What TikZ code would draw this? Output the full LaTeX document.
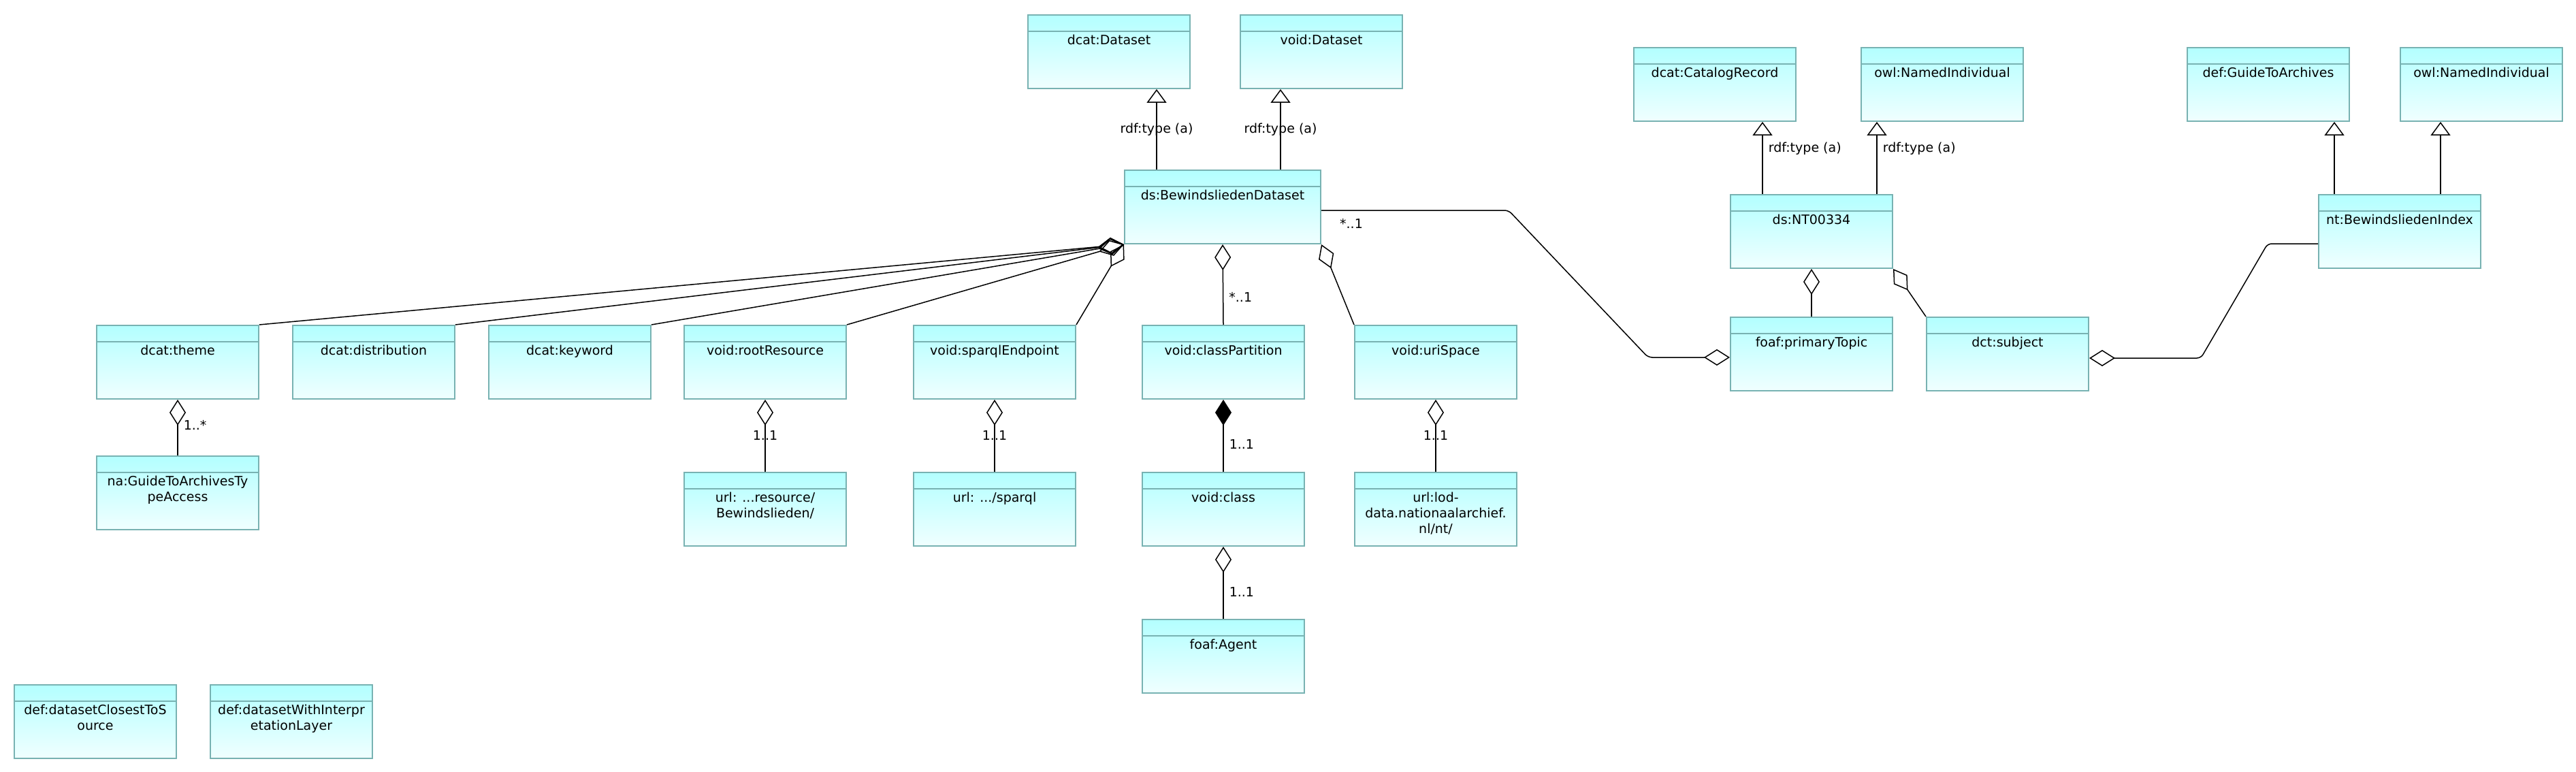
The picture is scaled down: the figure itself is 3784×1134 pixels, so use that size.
\documentclass[tikz,border=0pt]{standalone}
\usepackage{fontspec}
\setmainfont{DejaVu Sans}
\usetikzlibrary{arrows.meta}
\definecolor{clsline}{HTML}{78B2B2}
\definecolor{clstop}{HTML}{B3FFFF}
\definecolor{clsbot}{HTML}{F0FFFF}
\newcommand{\klasse}[4][119pt]{%
  \node[cls,minimum width=#1] (#2) at #3 {};
  \node[clstxt] (#2t) at ([yshift=-15pt]#2.north) {#4};}

\begin{document}
\begin{tikzpicture}[x=0.5pt,y=-0.5pt,
  cls/.style={anchor=north west,minimum height=54pt,inner sep=0pt,top color=clstop,bottom color=clsbot,draw=clsline,line width=1pt,
    path picture={\draw[clsline,line width=1pt] ([yshift=-12pt]path picture bounding box.north west) -- ([yshift=-12pt]path picture bounding box.north east);}},
  clstxt/.style={anchor=north,align=center,inner sep=0pt,font=\fontsize{9.5}{11.5}\selectfont},
  mult/.style={inner sep=0pt,font=\fontsize{9.5}{11.5}\selectfont},
  gen/.style={-{Triangle[open,length=10pt,width=14.5pt]},line width=0.75pt},
  aggr/.style={{Diamond[open,length=19pt,width=12pt]}-,line width=0.75pt},
  comp/.style={{Diamond[length=19pt,width=12pt]}-,line width=0.75pt}]
\useasboundingbox (0,0) rectangle (3784,1134);

\klasse{dcatDS}{(1509,21)}{dcat:Dataset}
\klasse{voidDS}{(1821,21)}{void:Dataset}
\klasse[144pt]{bwDS}{(1651,249)}{ds:BewindsliedenDataset}
\klasse{theme}{(141,477)}{dcat:theme}
\klasse{distr}{(429,477)}{dcat:distribution}
\klasse{kwd}{(717,477)}{dcat:keyword}
\klasse{root}{(1004,477)}{void:rootResource}
\klasse{sparql}{(1341,477)}{void:sparqlEndpoint}
\klasse{clsPart}{(1677,477)}{void:classPartition}
\klasse{uriSp}{(1989,477)}{void:uriSpace}
\klasse{gtaAcc}{(141,669)}{na:GuideToArchivesTy\\peAccess}
\klasse{rootUrl}{(1004,693)}{url: ...resource/\\Bewindslieden/}
\klasse{sparqlUrl}{(1341,693)}{url: .../sparql}
\klasse{voidCls}{(1677,693)}{void:class}
\klasse{lodUrl}{(1989,693)}{url:lod-\\data.nationaalarchief.\\nl/nt/}
\klasse{agent}{(1677,909)}{foaf:Agent}
\klasse{defSrc}{(20,1005)}{def:datasetClosestToS\\ource}
\klasse{defInt}{(308,1005)}{def:datasetWithInterpr\\etationLayer}
\klasse{catRec}{(2399,69)}{dcat:CatalogRecord}
\klasse{owlNI}{(2733,69)}{owl:NamedIndividual}
\klasse{nt}{(2541,285)}{ds:NT00334}
\klasse{topic}{(2541,465)}{foaf:primaryTopic}
\klasse{subj}{(2829,465)}{dct:subject}
\klasse{gtaDef}{(3212,69)}{def:GuideToArchives}
\klasse{owlNIb}{(3525,69)}{owl:NamedIndividual}
\klasse{ntIdx}{(3405,285)}{nt:BewindsliedenIndex}

\draw[gen] ([xshift=24pt]bwDS.north west) -- node[mult]{rdf:type (a)} ([xshift=24pt]bwDS.north west |- dcatDS.south);
\draw[gen] ([xshift=115pt]bwDS.north west) -- node[mult]{rdf:type (a)} ([xshift=115pt]bwDS.north west |- voidDS.south);
\draw[gen] ([xshift=24pt]nt.north west) -- node[mult,anchor=west,xshift=4pt,pos=0.63]{rdf:type (a)} ([xshift=24pt]nt.north west |- catRec.south);
\draw[gen] ([xshift=108pt]nt.north west) -- node[mult,anchor=west,xshift=4pt,pos=0.63]{rdf:type (a)} ([xshift=108pt]nt.north west |- owlNI.south);
\draw[gen] ([xshift=12pt]ntIdx.north west) -- ([xshift=12pt]ntIdx.north west |- gtaDef.south);
\draw[gen] ([xshift=90pt]ntIdx.north west) -- ([xshift=90pt]ntIdx.north west |- owlNIb.south);

\draw[aggr] (bwDS.south west) -- (theme.north east);
\draw[aggr] (bwDS.south west) -- (distr.north east);
\draw[aggr] (bwDS.south west) -- (kwd.north east);
\draw[aggr] (bwDS.south west) -- (root.north east);
\draw[aggr] (bwDS.south west) -- (sparql.north east);
\draw[aggr] (bwDS.south) -- node[mult,anchor=west,xshift=4pt,pos=0.66]{*..1} (clsPart.north);
\draw[aggr] (bwDS.south east) -- (uriSp.north west);
\draw[aggr] (theme.south) -- node[mult,anchor=west,xshift=4pt,pos=0.46]{1..*} (gtaAcc.north);
\draw[aggr] (root.south) -- node[mult]{1..1} (rootUrl.north);
\draw[aggr] (sparql.south) -- node[mult]{1..1} (sparqlUrl.north);
\draw[aggr] (uriSp.south) -- node[mult]{1..1} (lodUrl.north);
\draw[comp] (clsPart.south) -- node[mult,anchor=west,xshift=4pt,pos=0.62]{1..1} (voidCls.north);
\draw[aggr] (voidCls.south) -- node[mult,anchor=west,xshift=4pt,pos=0.63]{1..1} (agent.north);
\draw[aggr] (nt.south) -- (topic.north);
\draw[aggr] (nt.south east) -- (subj.north west);

\draw[aggr,rounded corners=3pt] ([yshift=-2.5pt]topic.west) -- ++(-60pt,0) -- ([xshift=137.5pt,yshift=-2.5pt]bwDS.east) -- node[mult,below=6pt,pos=0.84]{*..1} ([yshift=-2.5pt]bwDS.east);
\draw[aggr,rounded corners=3pt] ([yshift=-3pt]subj.east) -- ++(82pt,0) -- ([xshift=-37pt,yshift=-9pt]ntIdx.west) -- ([yshift=-9pt]ntIdx.west);
\end{tikzpicture}
\end{document}
